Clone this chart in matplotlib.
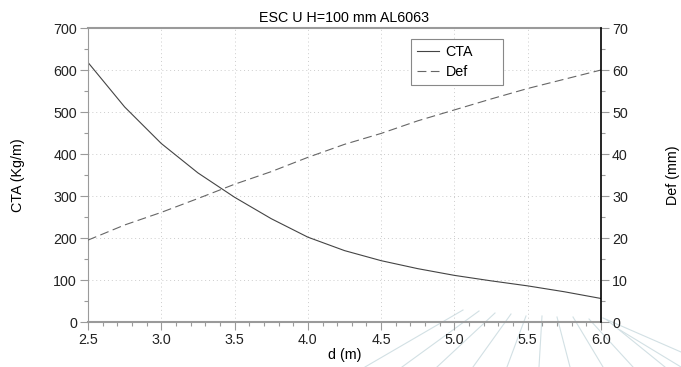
import matplotlib
matplotlib.use("Agg")
import matplotlib.pyplot as plt
from matplotlib.lines import Line2D
from matplotlib.ticker import MultipleLocator

plt.rcParams['font.family'] = ['Liberation Sans', 'DejaVu Sans']
plt.rcParams['font.size'] = 10.5

# valores
d = [2.5, 2.75, 3.0, 3.25, 3.5, 3.75, 4.0, 4.25, 4.5, 4.75, 5.0, 5.25, 5.5, 5.75, 6.0]
cta = [618, 512, 425, 355, 297, 246, 202, 170, 146, 127, 111, 98, 86, 72, 56]
deflex = [19.5, 23.1, 26.1, 29.4, 32.8, 35.8, 39.2, 42.3, 44.9, 47.9, 50.5, 53.1, 55.6, 57.8, 60.0]

titulo = 'ESC U H=100 mm AL6063'
rot_x = 'd (m)'
rot_y1 = 'CTA (Kg/m)'
rot_y2 = 'Def (mm)'

cinza = '#9a9a9a'
fs = 10.3
W, H = 681, 367

fig = plt.figure(figsize=(W / 100, H / 100), dpi=100)
ax = fig.add_axes([88 / W, 1 - 322 / H, (601 - 88) / W, (322 - 28) / H])
ax.set_facecolor('none')
ax2 = ax.twinx()

l1, = ax.plot(d, cta, color='#444444', lw=0.8, label='CTA')
l2, = ax2.plot(d, deflex, color='#666666', lw=0.8, dashes=(8, 4), label='Def')

ax.set_xlim(2.5, 6.0)
ax.set_ylim(0, 700)
ax2.set_ylim(0, 70)

ax.xaxis.set_major_locator(MultipleLocator(0.5))
ax.xaxis.set_minor_locator(MultipleLocator(0.1))
ax.yaxis.set_major_locator(MultipleLocator(100))
ax.yaxis.set_minor_locator(MultipleLocator(50))
ax2.yaxis.set_major_locator(MultipleLocator(10))
ax2.yaxis.set_minor_locator(MultipleLocator(5))
ax.xaxis.set_major_formatter(lambda v, p: f'{v:.1f}')

ax.grid(True, which='major', color='#cccccc', ls=(0, (1, 3)), lw=0.7)

for a in (ax, ax2):
    a.tick_params(which='major', direction='out', length=6, width=0.8, color=cinza,
                  labelsize=fs, labelcolor='#222222', pad=2)
    a.tick_params(which='minor', direction='out', length=3, width=0.8, color=cinza)

for nome in ('top', 'bottom', 'left'):
    ax.spines[nome].set_color(cinza)
    ax2.spines[nome].set_visible(False)
ax.spines['top'].set_linewidth(1.5)
ax.spines['bottom'].set_linewidth(1.5)
ax.spines['left'].set_linewidth(0.8)
ax.spines['right'].set_visible(False)
ax2.spines['right'].set_color('black')
ax2.spines['right'].set_linewidth(1.2)

ax.set_title(titulo, fontsize=fs, pad=4)
ax.set_xlabel(rot_x, fontsize=fs, labelpad=1)
fig.text(18 / W, 1 - 175 / H, rot_y1, rotation=90, ha='center', va='center', fontsize=fs)
fig.text(673 / W, 1 - 175 / H, rot_y2, rotation=90, ha='center', va='center', fontsize=fs)

alt = 45 / 294
leg = ax2.legend(handles=[l1, l2], loc='upper left', mode='expand',
                 bbox_to_anchor=(0.629, 0.963 - alt, 0.179, alt),
                 borderaxespad=0, fontsize=fs, frameon=True, fancybox=False, framealpha=1,
                 edgecolor='#888888', handlelength=1.5, handletextpad=0.5,
                 borderpad=0.45, labelspacing=0.4)
leg.get_frame().set_linewidth(0.8)

# marca d'agua (raios claros no canto inferior direito)
topo_x = [463, 479, 495, 511, 526, 542, 557, 573, 589, 607]
topo_y = [310, 311, 313, 314, 316, 316, 317, 317, 319, 320]
base_x = [365, 402, 437, 473, 507, 539, 570, 603, 633, 665]
for xt, yt, xb in zip(topo_x, topo_y, base_x):
    fig.add_artist(Line2D([xt / W, xb / W], [1 - yt / H, 0], color='#d2e0e4', lw=0.8, zorder=-1))
fig.add_artist(Line2D([603 / W, 1], [1 - 318 / H, 1 - 352 / H], color='#d2e0e4', lw=0.8, zorder=-1))
fig.add_artist(Line2D([620 / W, 1], [1 - 330 / H, 0], color='#d2e0e4', lw=0.8, zorder=-1))

fig.savefig('out.png', dpi=100)
